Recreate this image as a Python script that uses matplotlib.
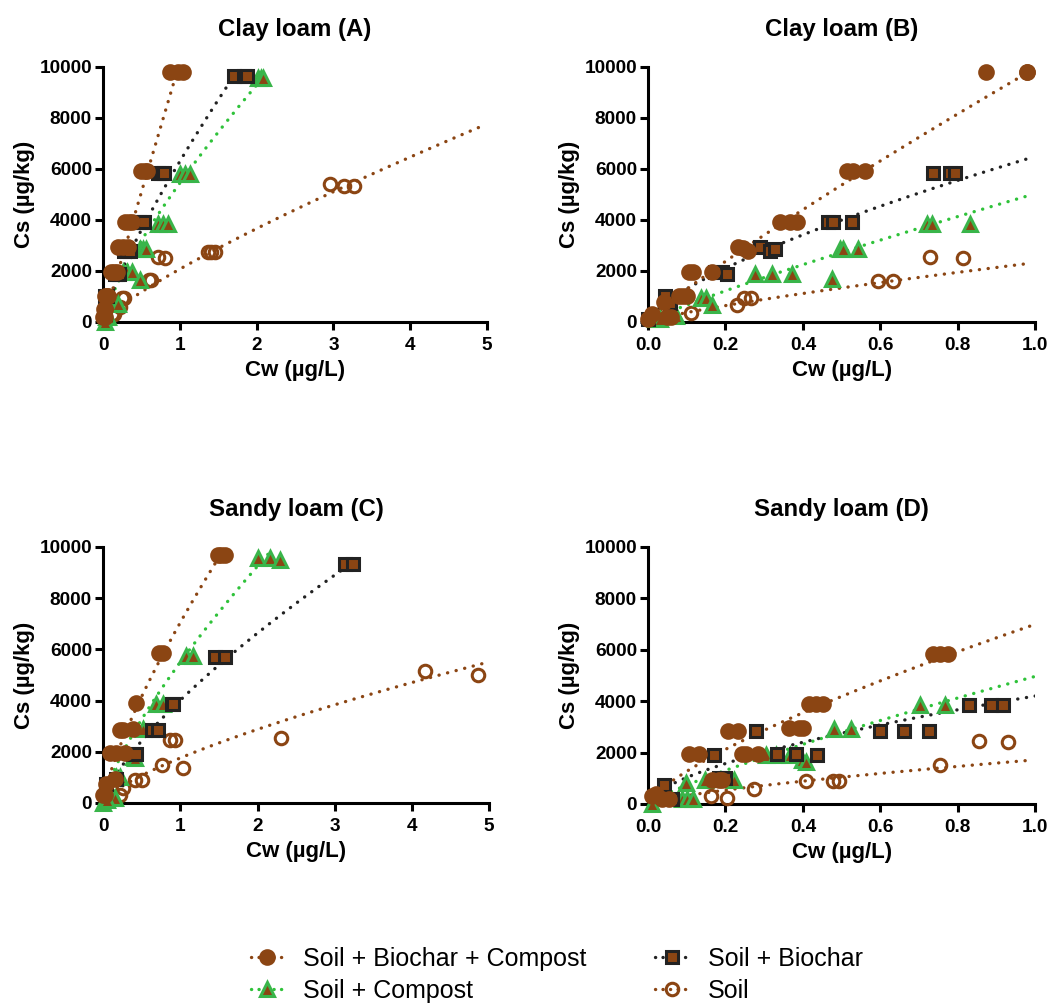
import matplotlib
matplotlib.use('Agg')
import matplotlib.pyplot as plt
from matplotlib.lines import Line2D
import numpy as np

plt.rcParams['font.family'] = ['Liberation Sans', 'DejaVu Sans']

# ---------- data (Cw in ug/L, Cs in ug/kg)

titles = ['Clay loam (A)', 'Clay loam (B)', 'Sandy loam (C)', 'Sandy loam (D)']
x_max = [5, 1.0, 5, 1.0]
x_ticks = [[0, 1, 2, 3, 4, 5], [0.0, 0.2, 0.4, 0.6, 0.8, 1.0],
           [0, 1, 2, 3, 4, 5], [0.0, 0.2, 0.4, 0.6, 0.8, 1.0]]
x_ticklabels = [['0', '1', '2', '3', '4', '5'], ['0.0', '0.2', '0.4', '0.6', '0.8', '1.0'],
                ['0', '1', '2', '3', '4', '5'], ['0.0', '0.2', '0.4', '0.6', '0.8', '1.0']]
y_ticks = [0, 2000, 4000, 6000, 8000, 10000]

series_names = ['Soil + Biochar + Compost', 'Soil + Biochar', 'Soil + Compost', 'Soil']

# panel A
a_sbc_cw = [0.87, 0.97, 1.04, 0.50, 0.54, 0.57, 0.28, 0.34, 0.38, 0.20, 0.26, 0.32, 0.10, 0.14, 0.18, 0.03, 0.05, 0.07, 0.01, 0.02, 0.03, 0.0, 0.01, 0.02]
a_sbc_cs = [9800, 9800, 9800, 5900, 5900, 5900, 3900, 3900, 3900, 2950, 2950, 2950, 1950, 1950, 1950, 1000, 1000, 1000, 500, 500, 500, 200, 200, 200]
a_sb_cw = [1.70, 1.84, 1.88, 0.72, 0.76, 0.79, 0.47, 0.51, 0.53, 0.27, 0.31, 0.35, 0.15, 0.18, 0.21, 0.03, 0.05, 0.02]
a_sb_cs = [9650, 9650, 9650, 5850, 5850, 5850, 3900, 3900, 3900, 2800, 2800, 2800, 1900, 1900, 1900, 1000, 1000, 300]
a_sc_cw = [2.02, 2.06, 2.08, 1.00, 1.07, 1.13, 0.72, 0.78, 0.84, 0.48, 0.52, 0.56, 0.26, 0.31, 0.38, 0.48, 0.16, 0.19, 0.04, 0.06, 0.02]
a_sc_cs = [9550, 9550, 9550, 5800, 5800, 5800, 3850, 3850, 3850, 2850, 2850, 2850, 1950, 1950, 1950, 1650, 700, 700, 200, 200, 0]
a_soil_cw = [2.96, 3.14, 3.27, 1.36, 1.41, 1.46, 0.72, 0.80, 0.60, 0.63, 0.24, 0.27, 0.22, 0.12, 0.14]
a_soil_cs = [5400, 5350, 5350, 2750, 2750, 2750, 2550, 2500, 1650, 1650, 950, 950, 600, 300, 300]

# panel B
b_sbc_cw = [0.872, 0.98, 0.98, 0.513, 0.530, 0.560, 0.340, 0.366, 0.384, 0.233, 0.246, 0.259, 0.105, 0.115, 0.165, 0.08, 0.09, 0.10, 0.04, 0.05, 0.06, 0.0, 0.01]
b_sbc_cs = [9800, 9800, 9800, 5900, 5900, 5900, 3900, 3900, 3900, 2950, 2900, 2800, 1950, 1950, 1950, 1000, 1000, 1000, 800, 200, 200, 100, 300]
b_sb_cw = [0.737, 0.780, 0.793, 0.466, 0.478, 0.528, 0.289, 0.315, 0.328, 0.172, 0.190, 0.203, 0.043, 0.056, 0.0]
b_sb_cs = [5850, 5850, 5850, 3900, 3900, 3900, 2950, 2800, 2850, 1950, 1950, 1900, 1000, 750, 100]
b_sc_cw = [0.720, 0.733, 0.832, 0.496, 0.504, 0.543, 0.276, 0.319, 0.371, 0.476, 0.138, 0.151, 0.164, 0.069, 0.073, 0.017, 0.030]
b_sc_cs = [3850, 3850, 3850, 2850, 2850, 2850, 1900, 1900, 1900, 1700, 950, 950, 650, 300, 250, 100, 100]
b_soil_cw = [0.728, 0.813, 0.595, 0.632, 0.247, 0.267, 0.231, 0.112]
b_soil_cs = [2550, 2500, 1600, 1600, 950, 950, 650, 350]

# panel C
c_sbc_cw = [1.49, 1.53, 1.58, 0.73, 0.78, 0.43, 0.22, 0.26, 0.39, 0.09, 0.17, 0.28, 0.15, 0.04, 0.0, 0.03]
c_sbc_cs = [9700, 9700, 9700, 5850, 5850, 3900, 2850, 2850, 2900, 1950, 1950, 1950, 950, 750, 300, 300]
c_sb_cw = [3.13, 3.24, 1.45, 1.58, 0.89, 0.91, 0.63, 0.71, 0.39, 0.43, 0.17, 0.04]
c_sb_cs = [9350, 9350, 5700, 5700, 3850, 3850, 2850, 2850, 1900, 1900, 950, 750]
c_sc_cw = [2.01, 2.16, 2.29, 1.08, 1.17, 0.69, 0.78, 0.52, 0.39, 0.41, 0.17, 0.22, 0.13, 0.15, 0.0, 0.05]
c_sc_cs = [9550, 9550, 9500, 5750, 5750, 3850, 3850, 2900, 1800, 1750, 1000, 1000, 200, 200, 0, 100]
c_soil_cw = [4.17, 4.86, 2.31, 0.86, 0.93, 0.76, 1.04, 0.41, 0.50, 0.26, 0.22]
c_soil_cs = [5150, 5000, 2550, 2450, 2450, 1500, 1350, 900, 900, 600, 300]

# panel D
d_sbc_cw = [0.736, 0.754, 0.775, 0.417, 0.434, 0.451, 0.365, 0.390, 0.400, 0.207, 0.233, 0.105, 0.131, 0.244, 0.252, 0.283, 0.166, 0.183, 0.192, 0.036, 0.054, 0.01, 0.02]
d_sbc_cs = [5850, 5850, 5850, 3900, 3900, 3900, 2950, 2950, 2950, 2850, 2850, 1950, 1950, 1950, 1950, 1950, 950, 950, 950, 200, 200, 300, 400]
d_sb_cw = [0.829, 0.885, 0.916, 0.598, 0.660, 0.726, 0.278, 0.170, 0.334, 0.382, 0.436, 0.183, 0.200, 0.041, 0.062]
d_sb_cs = [3850, 3850, 3850, 2850, 2850, 2850, 2850, 1900, 1950, 1950, 1900, 1000, 1000, 750, 200]
d_sc_cw = [0.702, 0.767, 0.480, 0.525, 0.304, 0.330, 0.366, 0.397, 0.408, 0.147, 0.222, 0.097, 0.088, 0.100, 0.116, 0.01]
d_sc_cs = [3850, 3850, 2900, 2900, 1900, 1900, 1900, 1700, 1650, 950, 950, 800, 200, 200, 200, 0]
d_soil_cw = [0.856, 0.929, 0.754, 0.408, 0.477, 0.494, 0.274, 0.162, 0.205]
d_soil_cs = [2450, 2400, 1500, 900, 900, 900, 600, 300, 250]

# Freundlich fit Cs = K * Cw^n, order: SBC, SB, SC, Soil
a_fit_K = [10200, 6300, 5450, 2075]
a_fit_n = [1.0, 0.80, 0.77, 0.82]
a_fit_end = [0.95, 1.70, 2.07, 4.95]
b_fit_K = [9950, 6490, 5030, 2325]
b_fit_n = [0.89, 0.70, 0.88, 0.80]
b_fit_end = [0.985, 0.985, 0.99, 0.985]
c_fit_K = [7050, 4014, 5500, 1758]
c_fit_n = [0.76, 0.725, 0.75, 0.71]
c_fit_end = [1.52, 3.15, 2.20, 4.97]
d_fit_K = [6990, 4200, 4964, 1717]
d_fit_n = [0.74, 0.61, 0.83, 0.72]
d_fit_end = [0.995, 1.0, 1.0, 0.995]

panels = [
    ([a_sbc_cw, a_sb_cw, a_sc_cw, a_soil_cw], [a_sbc_cs, a_sb_cs, a_sc_cs, a_soil_cs], a_fit_K, a_fit_n, a_fit_end),
    ([b_sbc_cw, b_sb_cw, b_sc_cw, b_soil_cw], [b_sbc_cs, b_sb_cs, b_sc_cs, b_soil_cs], b_fit_K, b_fit_n, b_fit_end),
    ([c_sbc_cw, c_sb_cw, c_sc_cw, c_soil_cw], [c_sbc_cs, c_sb_cs, c_sc_cs, c_soil_cs], c_fit_K, c_fit_n, c_fit_end),
    ([d_sbc_cw, d_sb_cw, d_sc_cw, d_soil_cw], [d_sbc_cs, d_sb_cs, d_sc_cs, d_soil_cs], d_fit_K, d_fit_n, d_fit_end),
]

# ---------- styles

brown = '#8B4513'
green = '#39B54A'
styles = [
    dict(marker='o', ms=10.5, mfc=brown, mec=brown, mew=1.5),
    dict(marker='s', ms=9, mfc=brown, mec='#222222', mew=2.2),
    dict(marker='^', ms=10.5, mfc=brown, mec=green, mew=2.2),
    dict(marker='o', ms=9, mfc='none', mec=brown, mew=2.2),
]
line_colors = [brown, '#222222', '#2FC23A', brown]
dots = (0, (0.05, 2.6))
draw_order = [3, 2, 1, 0]

fig = plt.figure(figsize=(10.52, 10.08), dpi=100)
boxes = [[0.098, 0.6806, 0.365, 0.253], [0.616, 0.6806, 0.368, 0.253],
         [0.098, 0.2034, 0.367, 0.254], [0.616, 0.2024, 0.368, 0.255]]

for p, (cws, css, Ks, ns, ends) in enumerate(panels):
    ax = fig.add_axes(boxes[p])
    for i in draw_order:
        xx = np.linspace(0, ends[i], 200)
        ax.plot(xx, Ks[i] * xx ** ns[i], color=line_colors[i], lw=2.4,
                linestyle=dots, dash_capstyle='round', zorder=2)
    for i in draw_order:
        ax.plot(cws[i], css[i], linestyle='none', clip_on=False, zorder=3, **styles[i])
    ax.set_xlim(0, x_max[p])
    ax.set_ylim(0, 10000)
    ax.set_xticks(x_ticks[p])
    ax.set_xticklabels(x_ticklabels[p])
    ax.set_yticks(y_ticks)
    for s in ['top', 'right']:
        ax.spines[s].set_visible(False)
    for s in ['left', 'bottom']:
        ax.spines[s].set_linewidth(2.2)
    ax.tick_params(width=2.2, length=6, labelsize=13.7)
    ax.tick_params(axis='x', pad=5)
    ax.tick_params(axis='y', pad=2)
    for lab in ax.get_xticklabels() + ax.get_yticklabels():
        lab.set_fontweight('bold')
    ax.set_xlabel('Cw (µg/L)', fontsize=16, fontweight='bold', labelpad=4)
    ax.set_ylabel('Cs (µg/kg)', fontsize=16, fontweight='bold', labelpad=3)
    ax.set_title(titles[p], fontsize=17.3, fontweight='bold', pad=22)

handles = []
for i in [0, 2, 1, 3]:
    handles.append(Line2D([0], [0], color=line_colors[i], lw=2.4, linestyle=(0, (0.05, 2.2)),
                          dash_capstyle='round', label=series_names[i], **styles[i]))
fig.legend(handles=handles, ncol=2, loc='lower left', bbox_to_anchor=(0.217, -0.017),
           frameon=False, fontsize=18, handlelength=1.3, columnspacing=2.75,
           handletextpad=0.8, labelspacing=0.3, numpoints=1)

fig.savefig('out.png', dpi=100)
